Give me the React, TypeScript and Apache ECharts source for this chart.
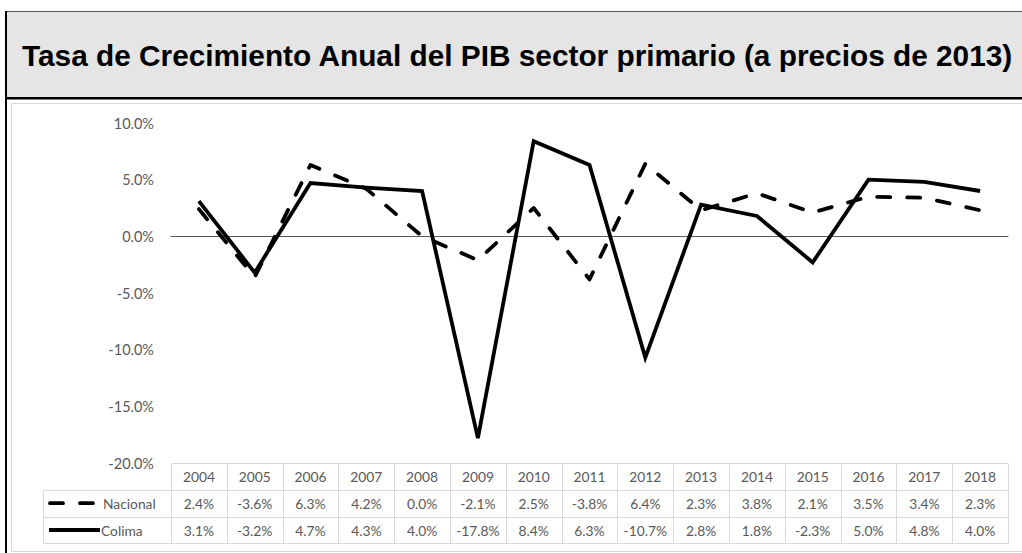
import React, { useEffect, useRef } from "react";
import * as echarts from "echarts";

const titleText = "Tasa de Crecimiento Anual del PIB sector primario (a precios de 2013)";
const years = ["2004", "2005", "2006", "2007", "2008", "2009", "2010", "2011", "2012", "2013", "2014", "2015", "2016", "2017", "2018"];
const nacional = [2.4, -3.6, 6.3, 4.2, 0.0, -2.1, 2.5, -3.8, 6.4, 2.3, 3.8, 2.1, 3.5, 3.4, 2.3];
const colima = [3.1, -3.2, 4.7, 4.3, 4.0, -17.8, 8.4, 6.3, -10.7, 2.8, 1.8, -2.3, 5.0, 4.8, 4.0];
const seriesNames = ["Nacional", "Colima"];
const yMin = -20;
const yMax = 10;
const yStep = 5;

const W = 1022;
const H = 553;
const GRID_LEFT = 171;
const GRID_RIGHT = 1008;
const GRID_TOP = 123;
const GRID_BOTTOM = 463;
const ROW_H = 26.8;
const LEGEND_LEFT = 43;
const TXT = "#595959";
const BORDER = "#d9d9d9";
const FONT = "Lato, 'Open Sans', sans-serif";

export default function App() {
  const ref = useRef<HTMLDivElement>(null);
  useEffect(() => {
    if (!ref.current) return;
    const chart = echarts.init(ref.current, null, { renderer: "svg" });
    const dash = [13, 17];
    chart.setOption({
      animation: false,
      backgroundColor: "#ffffff",
      grid: { left: GRID_LEFT, right: W - GRID_RIGHT, top: GRID_TOP, bottom: H - GRID_BOTTOM, containLabel: false },
      xAxis: {
        type: "category",
        data: years,
        boundaryGap: true,
        axisLabel: { show: false },
        axisTick: { show: false },
        axisLine: { show: true, onZero: true, lineStyle: { color: "#595959", width: 1.2 } },
        splitLine: { show: false },
      },
      yAxis: {
        type: "value",
        min: yMin,
        max: yMax,
        interval: yStep,
        axisLine: { show: false },
        axisTick: { show: false },
        splitLine: { show: false },
        axisLabel: {
          color: TXT,
          fontSize: 14.5,
          fontFamily: FONT,
          margin: 17,
          formatter: (v: number) => v.toFixed(1) + "%",
        },
      },
      series: [
        {
          name: seriesNames[0],
          type: "line",
          data: nacional,
          symbol: "none",
          z: 3,
          lineStyle: { color: "#000", width: 3.8, type: dash, cap: "round", join: "round" },
        },
        {
          name: seriesNames[1],
          type: "line",
          data: colima,
          symbol: "none",
          z: 4,
          lineStyle: { color: "#000", width: 3.8, type: "solid", join: "miter" },
        },
      ],
    });

    // Build the data table from the arrays, using the axis scale for column positions
    const centers = years.map((_, i) => chart.convertToPixel({ xAxisIndex: 0 }, i) as number);
    const colW = centers.length > 1 ? centers[1] - centers[0] : 56;
    const tableLeft = centers[0] - colW / 2;
    const tableRight = centers[centers.length - 1] + colW / 2;
    const rowTop = [GRID_BOTTOM, GRID_BOTTOM + ROW_H, GRID_BOTTOM + 2 * ROW_H];
    const rowBottom = GRID_BOTTOM + 3 * ROW_H;
    const fmt = (v: number) => v.toFixed(1) + "%";

    const g: any[] = [];
    // frame
    g.push({ type: "rect", shape: { x: 11.5, y: 103.5, width: 1020, height: 448 }, style: { fill: "none", stroke: BORDER, lineWidth: 1 }, z: 0 });
    g.push({ type: "rect", shape: { x: 6.5, y: 11.5, width: 1030, height: 86 }, style: { fill: "#e5e5e5", stroke: "#595959", lineWidth: 1 }, z: 0 });
    g.push({ type: "rect", shape: { x: 6, y: 97, width: 1030, height: 2.5 }, style: { fill: "#000" }, z: 1 });
    g.push({ type: "rect", shape: { x: 5, y: 11, width: 2, height: 542 }, style: { fill: "#000" }, z: 1 });
    g.push({
      type: "text",
      x: 22,
      y: 55,
      style: { text: titleText, fill: "#000", font: "bold 29.8px 'Liberation Sans', Arial, sans-serif", textVerticalAlign: "middle", textAlign: "left" },
      z: 2,
    });

    // table grid lines
    const lines: number[][] = [];
    lines.push([tableLeft, rowTop[0], tableRight, rowTop[0]]);
    lines.push([LEGEND_LEFT, rowTop[1], tableRight, rowTop[1]]);
    lines.push([LEGEND_LEFT, rowTop[2], tableRight, rowTop[2]]);
    lines.push([LEGEND_LEFT, rowBottom, tableRight, rowBottom]);
    lines.push([LEGEND_LEFT, rowTop[1], LEGEND_LEFT, rowBottom]);
    for (let i = 0; i <= years.length; i++) {
      const x = tableLeft + i * colW;
      lines.push([x, rowTop[0], x, rowBottom]);
    }
    lines.forEach(([x1, y1, x2, y2]) => {
      g.push({ type: "line", shape: { x1: Math.round(x1) + 0.5, y1: Math.round(y1) + 0.5, x2: Math.round(x2) + 0.5, y2: Math.round(y2) + 0.5 }, style: { stroke: BORDER, lineWidth: 1 }, z: 1 });
    });

    const cellText = (text: string, x: number, y: number, align = "center") => ({
      type: "text",
      x,
      y,
      style: { text, fill: TXT, font: `13.8px ${FONT}`, textAlign: align, textVerticalAlign: "middle" },
      z: 2,
    });
    years.forEach((yr, i) => g.push(cellText(yr, centers[i], rowTop[0] + ROW_H / 2 + 0.5)));
    [nacional, colima].forEach((arr, r) => {
      arr.forEach((v, i) => g.push(cellText(fmt(v), centers[i], rowTop[r + 1] + ROW_H / 2 + 0.5)));
    });

    // legend keys
    const yN = rowTop[1] + ROW_H / 2;
    const yC = rowTop[2] + ROW_H / 2;
    g.push({ type: "line", shape: { x1: 50, y1: yN, x2: 96, y2: yN }, style: { stroke: "#000", lineWidth: 3.8, lineDash: dash, lineCap: "round" }, z: 2 });
    g.push(cellText(seriesNames[0], 103, yN + 0.5, "left"));
    g.push({ type: "line", shape: { x1: 49, y1: yC, x2: 100, y2: yC }, style: { stroke: "#000", lineWidth: 3.8 }, z: 2 });
    g.push(cellText(seriesNames[1], 101, yC + 0.5, "left"));

    chart.setOption({ graphic: g });

    return () => chart.dispose();
  }, []);

  return (
    <div
      ref={ref}
      style={{ position: "fixed", left: 0, top: 0, width: W, height: H, background: "#fff" }}
    />
  );
}
